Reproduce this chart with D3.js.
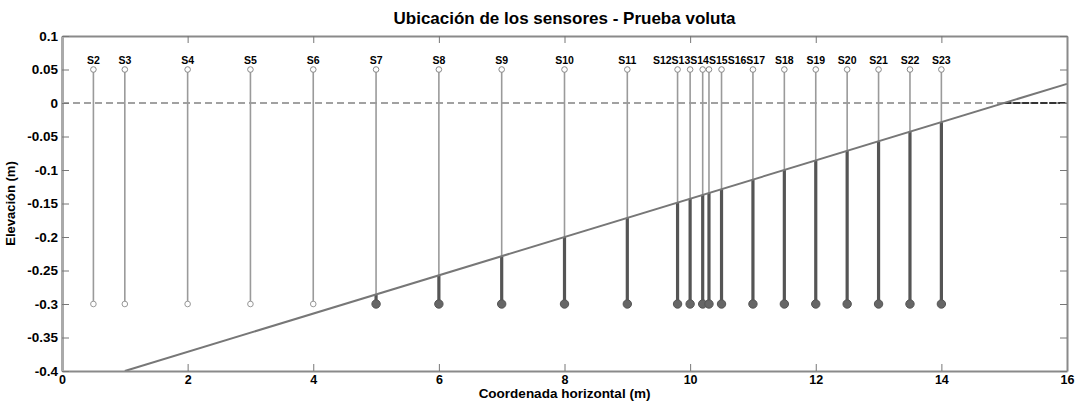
<!DOCTYPE html>
<html>
<head>
<meta charset="utf-8">
<script src="https://cdn.jsdelivr.net/npm/d3@7"></script>
<style>
  body { margin: 0; background: #fff; }
  text { font-family: "Liberation Sans", Arial, sans-serif; font-weight: bold; fill: #000; }
</style>
</head>
<body>
<div id="chart"></div>
<script>
// sensor names and horizontal positions (m)
const sensorNames = ["S2","S3","S4","S5","S6","S7","S8","S9","S10","S11","S12","S13","S14","S15","S16","S17","S18","S19","S20","S21","S22","S23"];
const sensorX = [0.5, 1, 2, 3, 4, 5, 6, 7, 8, 9, 9.8, 10, 10.2, 10.3, 10.5, 11, 11.5, 12, 12.5, 13, 13.5, 14];
const sensorTop = 0.05;
const sensorBottom = -0.3;

// bed (voluta ramp) line
const bedX = [1, 16];
const bedY = [-0.4, 0.0286];

// water level reference
const waterX = [0, 16];
const waterY = [0, 0];
const downstreamX = [15, 16];

const xTicks = [0, 2, 4, 6, 8, 10, 12, 14, 16];
const yTicks = [0.1, 0.05, 0, -0.05, -0.1, -0.15, -0.2, -0.25, -0.3, -0.35, -0.4];
const yTickLabels = ["0.1", "0.05", "0", "-0.05", "-0.1", "-0.15", "-0.2", "-0.25", "-0.3", "-0.35", "-0.4"];

const margin = { top: 36, right: 8, bottom: 33, left: 62 };
const width = 1075 - margin.left - margin.right;
const height = 404 - margin.top - margin.bottom;

const svg = d3.select("#chart")
    .append("svg")
    .attr("width", 1075)
    .attr("height", 404);

const g = svg.append("g")
    .attr("transform", "translate(" + margin.left + "," + margin.top + ")");

const x = d3.scaleLinear().domain([0, 16]).range([0, width]);
const y = d3.scaleLinear().domain([-0.4, 0.1]).range([height, 0]);
const bed = d3.scaleLinear().domain(bedX).range(bedY);

// water level (dashed)
g.append("line")
    .attr("x1", x(waterX[0])).attr("x2", x(waterX[1]))
    .attr("y1", y(waterY[0])).attr("y2", y(waterY[1]))
    .attr("stroke", "#444")
    .attr("stroke-width", 1.2)
    .attr("stroke-dasharray", "7,4");

g.append("line")
    .attr("x1", x(downstreamX[0])).attr("x2", x(downstreamX[1]))
    .attr("y1", y(0)).attr("y2", y(0))
    .attr("stroke", "#333")
    .attr("stroke-width", 2)
    .attr("stroke-dasharray", "7,2");

// sensor stems
const sensors = sensorX.map((v, i) => ({ name: sensorNames[i], x: v, bed: bed(v) }));

g.selectAll(".stem")
    .data(sensors)
    .enter().append("line")
    .attr("class", "stem")
    .attr("x1", d => x(d.x)).attr("x2", d => x(d.x))
    .attr("y1", y(sensorTop))
    .attr("y2", d => y(Math.max(d.bed, sensorBottom)))
    .attr("stroke", "#9a9a9a")
    .attr("stroke-width", 1.6);

// part of stem below the bed
g.selectAll(".buried")
    .data(sensors.filter(d => d.bed > sensorBottom))
    .enter().append("line")
    .attr("class", "buried")
    .attr("x1", d => x(d.x)).attr("x2", d => x(d.x))
    .attr("y1", d => y(d.bed))
    .attr("y2", y(sensorBottom))
    .attr("stroke", "#555")
    .attr("stroke-width", 3.2);

// bed line
g.append("line")
    .attr("x1", x(bedX[0])).attr("x2", x(bedX[1]))
    .attr("y1", y(bedY[0])).attr("y2", y(bedY[1]))
    .attr("stroke", "#777")
    .attr("stroke-width", 2);

// top markers
g.selectAll(".top")
    .data(sensors)
    .enter().append("circle")
    .attr("class", "top")
    .attr("cx", d => x(d.x))
    .attr("cy", y(sensorTop))
    .attr("r", 2.8)
    .attr("fill", "#fff")
    .attr("stroke", "#888")
    .attr("stroke-width", 1);

// bottom markers
g.selectAll(".bottom")
    .data(sensors)
    .enter().append("circle")
    .attr("class", "bottom")
    .attr("cx", d => x(d.x))
    .attr("cy", y(sensorBottom))
    .attr("r", d => d.bed > sensorBottom ? 4.2 : 2.8)
    .attr("fill", d => d.bed > sensorBottom ? "#666" : "#fff")
    .attr("stroke", d => d.bed > sensorBottom ? "#555" : "#999")
    .attr("stroke-width", 1);

// sensor labels, packed so they do not overlap
const labels = g.selectAll(".lbl")
    .data(sensors)
    .enter().append("text")
    .attr("class", "lbl")
    .attr("y", y(sensorTop) - 6)
    .style("font-size", "10.5px")
    .text(d => d.name);

labels.each(function (d) { d.w = this.getComputedTextLength(); });

let clusters = sensors.map(d => ({ items: [d], center: x(d.x) }));
let merged = true;
while (merged) {
    merged = false;
    for (let i = 0; i < clusters.length - 1; i++) {
        const a = clusters[i], b = clusters[i + 1];
        const wa = d3.sum(a.items, d => d.w), wb = d3.sum(b.items, d => d.w);
        if (a.center + wa / 2 > b.center - wb / 2) {
            const items = a.items.concat(b.items);
            clusters.splice(i, 2, { items: items, center: d3.mean(items, d => x(d.x)) });
            merged = true;
            break;
        }
    }
}
clusters.forEach(c => {
    let left = c.center - d3.sum(c.items, d => d.w) / 2;
    c.items.forEach(d => { d.lx = left; left += d.w; });
});
labels.attr("x", d => d.lx);

// axes (MATLAB style, ticks inward, boxed)
const axisStyle = size => sel => {
    sel.selectAll(".domain").attr("stroke", "#8a8a8a").attr("stroke-width", 2);
    sel.selectAll(".tick line").attr("stroke", "#777");
    sel.selectAll(".tick text").style("font-size", size).attr("fill", "#000");
};

g.append("g")
    .attr("transform", "translate(0," + height + ")")
    .call(d3.axisBottom(x).tickValues(xTicks).tickFormat(d3.format("d")).tickSize(-7).tickSizeOuter(0).tickPadding(4))
    .call(axisStyle("12.5px"));

g.append("g")
    .call(d3.axisTop(x).tickValues(xTicks).tickFormat("").tickSize(-7).tickSizeOuter(0))
    .call(axisStyle("12px"));

g.append("g")
    .call(d3.axisLeft(y).tickValues(yTicks).tickFormat((d, i) => yTickLabels[i]).tickSize(-7).tickSizeOuter(0).tickPadding(4))
    .call(axisStyle("13.5px"))
    .call(s => s.select(".domain").attr("stroke", "#aaa").attr("stroke-width", 3));

g.append("g")
    .attr("transform", "translate(" + width + ",0)")
    .call(d3.axisRight(y).tickValues(yTicks).tickFormat("").tickSize(-7).tickSizeOuter(0))
    .call(axisStyle("12px"));

// titles
svg.append("text")
    .attr("x", margin.left + width / 2)
    .attr("y", 24)
    .attr("text-anchor", "middle")
    .style("font-size", "17px")
    .text("Ubicación de los sensores - Prueba voluta");

svg.append("text")
    .attr("x", margin.left + width / 2)
    .attr("y", 398)
    .attr("text-anchor", "middle")
    .style("font-size", "13.5px")
    .text("Coordenada horizontal (m)");

svg.append("text")
    .attr("transform", "translate(15," + (margin.top + height / 2) + ") rotate(-90)")
    .attr("text-anchor", "middle")
    .style("font-size", "13px")
    .text("Elevación (m)");
</script>
</body>
</html>
